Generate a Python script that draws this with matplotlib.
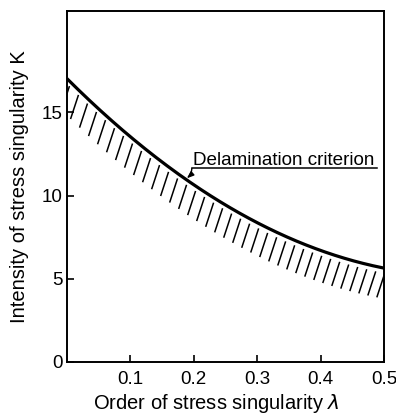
import numpy as np
import matplotlib.pyplot as plt
from matplotlib.collections import LineCollection

plt.rcParams['font.family'] = ['Liberation Sans', 'DejaVu Sans']
plt.rcParams['mathtext.fontset'] = 'dejavusans'

# delamination criterion curve K(lambda)
lam = [0.0, 0.05, 0.1, 0.15, 0.2, 0.25, 0.3, 0.35, 0.4, 0.45, 0.5]
K = [16.8, 15.3, 13.8, 12.1, 10.6, 9.3, 8.3, 7.4, 6.7, 6.1, 5.7]

xticks = [0.1, 0.2, 0.3, 0.4, 0.5]
xticklabels = ['0.1', '0.2', '0.3', '0.4', '0.5']
yticks = [0, 5, 10, 15]
label = 'Delamination criterion'

fig = plt.figure(figsize=(3.96, 4.16), dpi=100)
ax = fig.add_axes([0.169, 0.130, 0.801, 0.844])

# smooth curve through the read points
coef = np.polyfit(lam, K, 2)
lam_f = np.linspace(lam[0], lam[-1], 200)
K_f = np.polyval(coef, lam_f)
ax.plot(lam_f, K_f, color='black', lw=2.3, solid_capstyle='butt')

# hatching below the curve (short slanted strokes)
hx = np.arange(0.004, 0.51, 0.0142)
hy = np.polyval(coef, hx) - 0.3
segs = [[(x, y), (x - 0.0125, y - 1.45)] for x, y in zip(hx, hy)]
lc = LineCollection(segs, colors='black', linewidths=1.1)
ax.add_collection(lc)

# label with underline and pointer
ax.text(0.199, 11.82, label, fontsize=13.6, ha='left', va='baseline')
ax.plot([0.197, 0.489], [11.63, 11.63], color='black', lw=1.1)
ax.annotate('', xy=(0.189, np.polyval(coef, 0.189) + 0.1), xytext=(0.197, 11.63),
            arrowprops=dict(arrowstyle='-|>,head_length=0.4,head_width=0.15',
                            color='black', lw=1.0, shrinkA=0, shrinkB=0,
                            connectionstyle='arc3,rad=-0.2'))

ax.set_xlim(0, 0.5)
ax.set_ylim(0, 21.1)
ax.set_xticks(xticks)
ax.set_xticklabels(xticklabels)
ax.set_yticks(yticks)
ax.tick_params(direction='in', length=5, width=1.2, labelsize=13.5)
ax.tick_params(axis='x', pad=6.5)
ax.tick_params(axis='y', pad=3)
for s in ax.spines.values():
    s.set_linewidth(1.4)

ax.set_xlabel(r'Order of stress singularity $\lambda$', fontsize=14.5)
ax.xaxis.set_label_coords(0.472, -0.085)
ax.set_ylabel('Intensity of stress singularity K', fontsize=14.5)
ax.yaxis.set_label_coords(-0.118, 0.5)

fig.savefig('out.png', dpi=100)
